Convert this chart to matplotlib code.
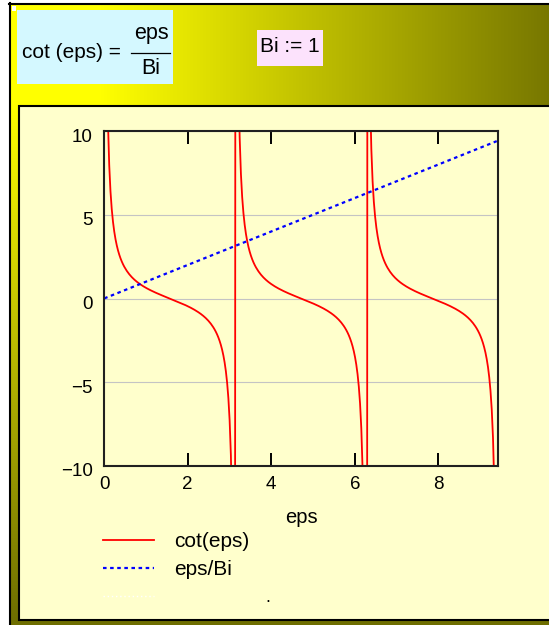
import numpy as np
import matplotlib.pyplot as plt
import matplotlib.transforms as mtransforms
from matplotlib.patches import Rectangle
from matplotlib.lines import Line2D

plt.rcParams['font.family'] = ['Liberation Sans', 'DejaVu Sans']

W, H = 549, 625

# worksheet parameter and the range of eps
Bi = 1
eps_max = 3 * np.pi
eps = np.arange(0.005, eps_max, 0.03)

cot_vals = 1 / np.tan(eps)
lin_vals = eps / Bi

x_ticks = [0, 2, 4, 6, 8]
y_ticks = [-10, -5, 0, 5, 10]
legend_labels = ['cot(eps)', 'eps/Bi', '']

fig = plt.figure(figsize=(W / 100, H / 100), dpi=100)

# background layer in pixel coordinates
bg = fig.add_axes([0, 0, 1, 1])
bg.axis('off')

# yellow -> olive shading of the worksheet region
xs = np.arange(9, W + 1)
ys = np.arange(3, H + 1)
gx, gy = np.meshgrid(xs, ys)
r = np.sqrt((np.maximum(gx - 100, 0) / 480) ** 2 + (np.maximum(gy - 100, 0) / 520) ** 2)
v = (255 - 145 * np.clip(r, 0, 1)) / 255
shade = np.dstack([v, v, np.zeros_like(v)])
bg.imshow(shade, extent=(9, W + 1, H + 1, 3), origin='upper', aspect='auto', interpolation='bilinear')

bg.plot([10, 10], [3, H + 5], color='black', lw=1.5)
bg.plot([9, W + 5], [4, 4], color='black', lw=1.5)
bg.add_patch(Rectangle((11.5, 5.5), 4, 5, fc='white', ec='none'))

# equation regions
bg.add_patch(Rectangle((17, 10), 156, 74, fc='#D4F8FF', ec='none'))
bg.text(22, 52, 'cot (eps) =', fontsize=15, va='center', ha='left')
bg.text(151, 34, 'eps', fontsize=15.5, va='center', ha='center')
bg.plot([131, 170], [52.5, 52.5], color='black', lw=0.9)
bg.text(151, 69, 'Bi', fontsize=15.5, va='center', ha='center')

bg.add_patch(Rectangle((257, 30), 66, 36, fc='#FCE2FC', ec='none'))
bg.text(290, 47, 'Bi := 1', fontsize=15, va='center', ha='center')

# plot region panel
bg.add_patch(Rectangle((18.5, 105.5), 600, 514.5, fc='#FFFFCC', ec='black', lw=1.5))
bg.text(268, 598, '.', fontsize=13, ha='center', va='center')

bg.set_xlim(0, W)
bg.set_ylim(H, 0)

# the graph itself
ax = fig.add_axes([104 / W, 1 - 466 / H, (498 - 104) / W, (466 - 131) / H])
ax.set_facecolor('none')
h1, = ax.plot(eps, cot_vals, color='red', lw=1.3)
h2, = ax.plot(eps, lin_vals, color='blue', lw=1.6, dashes=(1.6, 1.6))
ax.set_xlim(0, eps_max)
ax.set_ylim(-10, 10)
ax.set_xticks(x_ticks)
ax.set_yticks(y_ticks)
ax.set_axisbelow(True)
ax.grid(axis='y', color='#c4c4c4', lw=0.8)
ax.tick_params(axis='x', direction='in', length=9.5, width=1.4, top=True, pad=7, labelsize=13.5)
ax.tick_params(axis='y', length=0, pad=8, labelsize=13.5)
for s in ax.spines.values():
    s.set_linewidth(1.5)
    s.set_color('#202020')
ax.set_xlabel('eps', fontsize=14.5, labelpad=11)

shift = mtransforms.ScaledTranslation(0, -4 / 100, fig.dpi_scale_trans)
for lbl in ax.get_yticklabels():
    lbl.set_transform(lbl.get_transform() + shift)

blank = Line2D([], [], color='white', lw=1.0, dashes=(1, 2))
ax.legend(handles=[h1, h2, blank], labels=legend_labels, loc='upper left',
          bbox_to_anchor=(103 / W, 1 - 532 / H), bbox_transform=fig.transFigure,
          frameon=False, fontsize=15, handlelength=2.45, handletextpad=0.96,
          labelspacing=0.45, borderpad=0, borderaxespad=0)

fig.savefig('out.png', dpi=100)
